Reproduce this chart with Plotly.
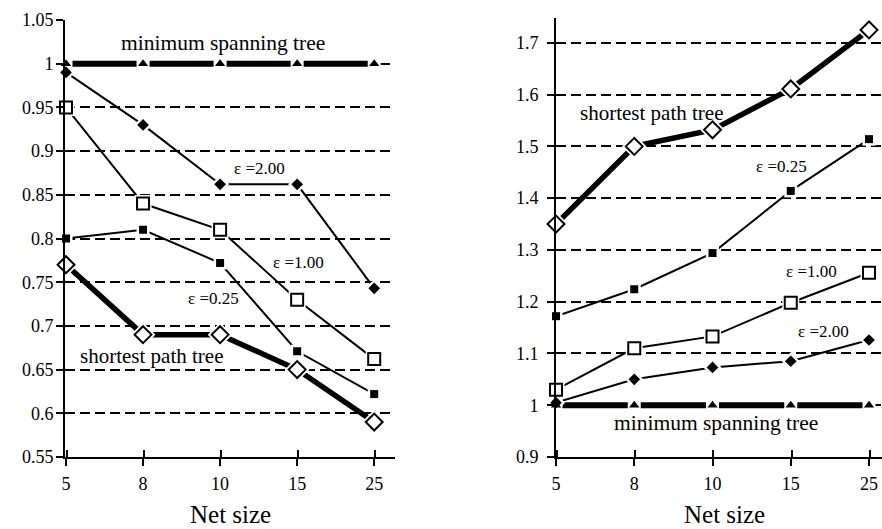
import plotly.graph_objects as go

# ---------------- data ----------------
net_sizes = ["5", "8", "10", "15", "25"]

left_mst = [1.0, 1.0, 1.0, 1.0, 1.0]
left_eps200 = [0.99, 0.93, 0.862, 0.862, 0.743]
left_eps100 = [0.95, 0.84, 0.81, 0.73, 0.662]
left_eps025 = [0.80, 0.81, 0.772, 0.671, 0.622]
left_spt = [0.77, 0.69, 0.69, 0.65, 0.59]

right_mst = [1.0, 1.0, 1.0, 1.0, 1.0]
right_eps200 = [1.005, 1.05, 1.073, 1.085, 1.126]
right_eps100 = [1.03, 1.11, 1.133, 1.198, 1.256]
right_eps025 = [1.172, 1.224, 1.294, 1.414, 1.514]
right_spt = [1.35, 1.50, 1.532, 1.611, 1.725]

left_ytickvals = [0.55, 0.6, 0.65, 0.7, 0.75, 0.8, 0.85, 0.9, 0.95, 1.0, 1.05]
left_yticktext = ["0.55", "0.6", "0.65", "0.7", "0.75", "0.8", "0.85", "0.9", "0.95", "1", "1.05"]
right_ytickvals = [0.9, 1.0, 1.1, 1.2, 1.3, 1.4, 1.5, 1.6, 1.7]
right_yticktext = ["0.9", "1", "1.1", "1.2", "1.3", "1.4", "1.5", "1.6", "1.7"]

x_idx = list(range(len(net_sizes)))

W, H = 882, 529
FONT = "Liberation Serif"


def px(x):
    return x / W


def py(y):
    return 1 - y / H


styles = {
    "mst": dict(lw=6, sym="triangle-up", size=9, fill="black", halo=13, halo_sym="square"),
    "eps200": dict(lw=2, sym="diamond", size=9, fill="black", halo=14, halo_sym="diamond"),
    "eps100": dict(lw=2, sym="square", size=12, fill="white", halo=17, halo_sym="square"),
    "eps025": dict(lw=2, sym="square", size=8, fill="black", halo=13, halo_sym="square"),
    "spt": dict(lw=5.5, sym="diamond", size=13, fill="white", halo=19, halo_sym="diamond"),
}

fig = go.Figure()


def add_panel(series, xa, ya):
    for key, ys in series:
        s = styles[key]
        fig.add_trace(go.Scatter(x=x_idx, y=ys, mode="lines", xaxis=xa, yaxis=ya,
                                 line=dict(color="black", width=s["lw"]),
                                 showlegend=False, hoverinfo="skip"))
    for key, ys in series:
        s = styles[key]
        fig.add_trace(go.Scatter(x=x_idx, y=ys, mode="markers", xaxis=xa, yaxis=ya,
                                 cliponaxis=False,
                                 marker=dict(symbol=s["halo_sym"], size=s["halo"], color="white",
                                             line=dict(width=0)),
                                 showlegend=False, hoverinfo="skip"))
    for key, ys in series:
        s = styles[key]
        fig.add_trace(go.Scatter(x=x_idx, y=ys, mode="markers", xaxis=xa, yaxis=ya,
                                 cliponaxis=False,
                                 marker=dict(symbol=s["sym"], size=s["size"], color=s["fill"],
                                             line=dict(color="black", width=2 if s["fill"] == "white" else 0)),
                                 showlegend=False))


add_panel([("mst", left_mst), ("eps200", left_eps200), ("eps100", left_eps100),
           ("eps025", left_eps025), ("spt", left_spt)], "x", "y")
add_panel([("mst", right_mst), ("eps200", right_eps200), ("eps100", right_eps100),
           ("eps025", right_eps025), ("spt", right_spt)], "x2", "y2")

xcommon = dict(showline=True, linecolor="black", linewidth=2, ticks="outside", ticklen=7,
               tickwidth=2, tickcolor="black", tickmode="array", tickvals=x_idx, ticktext=net_sizes,
               tickfont=dict(family=FONT, size=18, color="black"), showgrid=False, zeroline=False,
               automargin=False, ticklabelstandoff=2,
               minor=dict(ticks="inside", ticklen=7, tickwidth=2, tickcolor="black",
                          tickmode="array", tickvals=[v + 0.01 for v in x_idx], showgrid=False))
ycommon = dict(showline=True, linecolor="black", linewidth=2, ticks="outside", ticklen=7,
               tickwidth=2, tickcolor="black", tickmode="array",
               tickfont=dict(family=FONT, size=18, color="black"), showgrid=True,
               gridcolor="black", gridwidth=2, griddash="10px,5px", zeroline=False,
               automargin=False)

fig.update_layout(
    width=W, height=H,
    margin=dict(l=0, r=0, t=0, b=0),
    paper_bgcolor="white", plot_bgcolor="white",
    font=dict(family=FONT, color="black"),
    hovermode=False,
    xaxis=dict(domain=[px(65), px(395)], range=[-0.013, 4.27], anchor="y", **xcommon),
    yaxis=dict(domain=[py(457), py(20)], range=[0.55, 1.05], anchor="x",
               tickvals=left_ytickvals, ticktext=left_yticktext, ticklabelstandoff=-1, **ycommon),
    xaxis2=dict(domain=[px(556), 1.0], range=[0.0, 4.166], anchor="y2", **xcommon),
    yaxis2=dict(domain=[py(457), py(18)], range=[0.9, 1.748], anchor="x2",
                tickvals=right_ytickvals, ticktext=right_yticktext, ticklabelstandoff=5, **ycommon),
)

labels = [
    ("minimum spanning tree", 223, 43, 21.5),
    ("ε =2.00", 259, 169, 17),
    ("ε =1.00", 298, 262, 17),
    ("ε =0.25", 213, 298, 17),
    ("shortest path tree", 151, 356, 21),
    ("shortest path tree", 651, 113, 21),
    ("ε =0.25", 781, 166, 17),
    ("ε =1.00", 811, 271, 17),
    ("ε =2.00", 823, 331, 17),
    ("minimum spanning tree", 716, 423, 21.5),
    ("Net size", 230, 514, 25),
    ("Net size", 724, 514, 25),
]
for text, x, y, size in labels:
    fig.add_annotation(text=text, x=px(x), y=py(y), xref="paper", yref="paper",
                       showarrow=False, xanchor="center", yanchor="middle",
                       font=dict(family=FONT, size=size, color="black"))

fig.write_html("out.html", config={"displayModeBar": False, "staticPlot": True},
               post_script="document.body.style.margin='0';document.body.style.overflow='hidden';")
